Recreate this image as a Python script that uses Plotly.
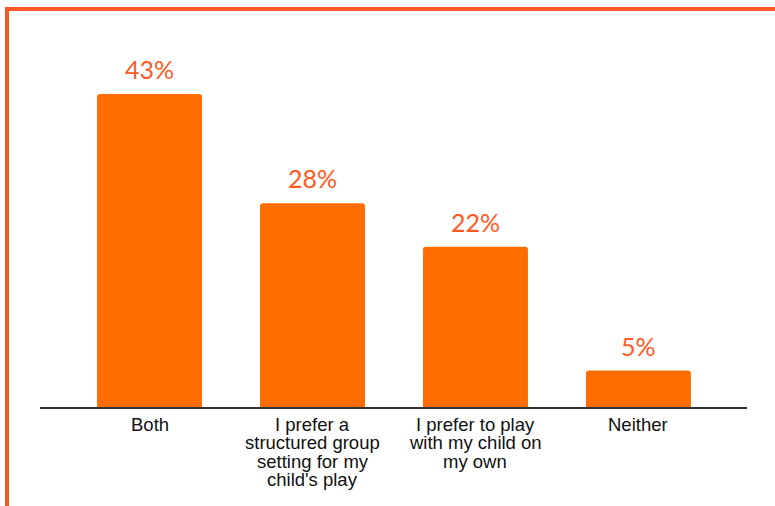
import plotly.graph_objects as go

# Survey answers and their shares (percent)
categories = [
    "Both",
    "I prefer a<br>structured group<br>setting for my<br>child's play",
    "I prefer to play<br>with my child on<br>my own",
    "Neither",
]
values = [43, 28, 22, 5]
value_labels = [f"{v}%" for v in values]

BAR_COLOR = "#FF6C00"
LABEL_COLOR = "#FF5A24"
FRAME_COLOR = "#FF5722"

W, H = 775, 506
ML, MR, MT, MB = 40, 28, 43, 99
PW, PH = W - ML - MR, H - MT - MB


def px_x(x):
    return (x - ML) / PW


def px_y(y):
    return (H - MB - y) / PH


fig = go.Figure(
    go.Bar(
        x=categories,
        y=values,
        width=0.644,
        marker=dict(color=BAR_COLOR, line=dict(width=0)),
        hoverinfo="skip",
    )
)

annotations = []
# value labels above each bar
for cat, v, lab in zip(categories, values, value_labels):
    annotations.append(dict(
        x=cat, y=v, xref="x", yref="y", text=lab, showarrow=False,
        yanchor="bottom", yshift=8,
        font=dict(family="Lato", size=25, color=LABEL_COLOR),
    ))

# category labels, one line at a time for tight line spacing
for cat in categories:
    for k, line in enumerate(cat.split("<br>")):
        annotations.append(dict(
            x=cat, y=0, xref="x", yref="y", text=line, showarrow=False,
            yanchor="top", yshift=-5 - k * 18.3,
            font=dict(family="Liberation Sans, Arial", size=18.5, color="#111111"),
        ))

# orange frame on the top and left edges
shapes = [
    dict(type="rect", xref="paper", yref="paper",
         x0=px_x(5), x1=px_x(W + 2), y0=px_y(11), y1=px_y(7),
         fillcolor=FRAME_COLOR, line=dict(width=0), layer="above"),
    dict(type="rect", xref="paper", yref="paper",
         x0=px_x(5), x1=px_x(9), y0=px_y(H + 2), y1=px_y(7),
         fillcolor=FRAME_COLOR, line=dict(width=0), layer="above"),
]

fig.update_layout(
    width=W, height=H,
    margin=dict(l=ML, r=MR, t=MT, b=MB, pad=0),
    paper_bgcolor="white", plot_bgcolor="white",
    showlegend=False,
    barcornerradius=3,
    annotations=annotations,
    shapes=shapes,
    xaxis=dict(
        type="category", range=[-0.672, 3.666],
        showticklabels=False, ticks="", showgrid=False, zeroline=False,
        showline=True, linecolor="#333333", linewidth=1.5,
    ),
    yaxis=dict(
        range=[0, 50], visible=False, showgrid=False, zeroline=False,
    ),
)

fig.write_html("out.html")
